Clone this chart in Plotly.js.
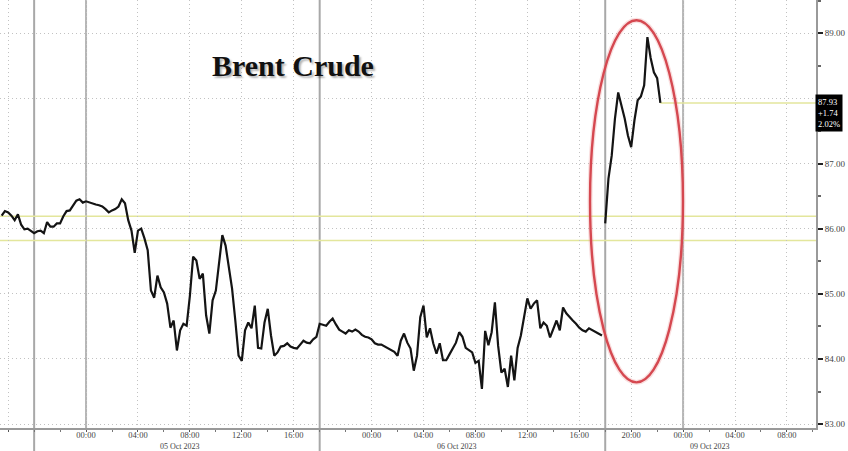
<!DOCTYPE html>
<html><head><meta charset="utf-8">
<script src="https://cdn.plot.ly/plotly-3.0.1.min.js"></script>
<style>html,body{margin:0;padding:0;background:#fff}#chart{width:848px;height:451px}</style>
</head><body><div id="chart"></div>
<script>
// Time axis: trading hours with session gaps removed; 0 = 00:00 05 Oct 2023
const STEP = 0.25;
const oct5Start = -6.5;
const oct5Prices = [
86.20, 86.27, 86.25, 86.20, 86.13, 86.22, 86.06, 85.99, 86.00, 85.97,
85.93, 85.96, 85.97, 85.93, 86.10, 86.03, 86.03, 86.08, 86.08, 86.19,
86.27, 86.28, 86.36, 86.43, 86.45, 86.40, 86.42, 86.40, 86.39, 86.37,
86.36, 86.34, 86.30, 86.25, 86.28, 86.30, 86.34, 86.45, 86.39, 86.13,
85.97, 85.63, 85.97, 86.00, 85.85, 85.67, 85.05, 84.94, 85.28, 85.10,
85.02, 84.85, 84.48, 84.59, 84.13, 84.44, 84.54, 84.51, 84.97, 85.57,
85.51, 85.23, 85.31, 84.67, 84.39, 84.90, 85.05, 85.48, 85.90, 85.74,
85.43, 85.08, 84.59, 84.05, 83.97, 84.44, 84.56, 84.47, 84.82, 84.17,
84.16, 84.56, 84.77, 84.36, 84.05, 84.10, 84.19, 84.20, 84.24, 84.19,
84.17, 84.16, 84.22, 84.28, 84.25, 84.24, 84.30, 84.34];
const oct6Start = 18;
const oct6Prices = [
84.54, 84.53, 84.51, 84.57, 84.62, 84.53, 84.45, 84.42, 84.39, 84.44,
84.42, 84.45, 84.42, 84.37, 84.34, 84.33, 84.30, 84.24, 84.22, 84.22,
84.19, 84.17, 84.14, 84.11, 84.05, 84.28, 84.39, 84.25, 84.16, 83.82,
84.05, 84.64, 84.82, 84.33, 84.47, 84.24, 84.08, 84.24, 83.98, 83.98,
84.07, 84.17, 84.25, 84.41, 84.34, 84.17, 84.13, 84.10, 83.94, 83.97,
83.54, 84.43, 84.21, 84.41, 84.87, 84.20, 83.79, 83.85, 83.57, 84.05,
83.67, 84.17, 84.36, 84.67, 84.93, 84.77, 84.85, 84.90, 84.47, 84.56,
84.51, 84.33, 84.47, 84.59, 84.44, 84.79, 84.70, 84.64, 84.59, 84.54,
84.48, 84.44, 84.42, 84.47, 84.44, 84.41, 84.39, 84.36];
const oct9Start = 40;
const oct9Prices = [86.08, 86.77, 87.12, 87.69, 88.09, 87.89, 87.69, 87.43, 87.25,
87.66, 87.97, 88.03, 88.20, 88.94, 88.62, 88.40, 88.31, 87.93];

const tickHours  = [-6, 0, 4, 8, 12, 16, 22, 26, 30, 34, 38, 42, 46, 50, 54];
const tickLabels = ['', '00:00', '04:00', '08:00', '12:00', '16:00', '00:00', '04:00', '08:00', '12:00', '16:00', '20:00', '00:00', '04:00', '08:00'];
const sessionBreaks = [-4, 18, 40];
const midnightLines = [0, 46];
const dayLabels = ['05 Oct 2023', '06 Oct 2023', '09 Oct 2023'];
const dayLabelHours = [7.2, 28.6, 48.1];
const refLevels = [86.19, 85.82];
const lastPrice = 87.93;
const netChange = '+1.74';
const pctChange = '2.02%';
const yTicks = [83, 84, 85, 86, 87, 88, 89];
const chartTitle = 'Brent Crude';
// highlighted zone (time range, price range)
const highlightHours = [38.83, 45.99];
const highlightPrices = [83.64, 89.2];

const xRange = [-6.63, 56.24];
const yRange = [82.94, 89.51];

function hours(start, arr) { return arr.map((_, i) => start + i * STEP); }

const x12 = hours(oct5Start, oct5Prices).concat(hours(oct6Start, oct6Prices));
const y12 = oct5Prices.concat(oct6Prices);
const x3 = hours(oct9Start, oct9Prices);
const lastHour = x3[x3.length - 1];

const lineStyle = {color: '#141414', width: 2.2};
const traces = [
  {x: x12, y: y12, type: 'scatter', mode: 'lines', line: lineStyle, hoverinfo: 'skip'},
  {x: x3, y: oct9Prices, type: 'scatter', mode: 'lines', line: lineStyle, hoverinfo: 'skip'}
];

const tickFont = {family: 'Liberation Serif, DejaVu Serif, serif', size: 8.5, color: '#444'};
const shapes = [];
sessionBreaks.forEach(h => shapes.push({type: 'line', xref: 'x', yref: 'paper', x0: h, x1: h, y0: -0.06, y1: 1,
  line: {color: '#a8a8a8', width: 2}, layer: 'below'}));
midnightLines.forEach(h => shapes.push({type: 'line', xref: 'x', yref: 'paper', x0: h, x1: h, y0: 0, y1: 1,
  line: {color: '#b4b4b4', width: 2}, layer: 'below'}));
refLevels.forEach(v => shapes.push({type: 'line', xref: 'paper', yref: 'y', x0: 0, x1: 1, y0: v, y1: v,
  line: {color: '#e3e69c', width: 1.5}, layer: 'below'}));
shapes.push({type: 'line', xref: 'x', yref: 'y', x0: lastHour, x1: xRange[1], y0: lastPrice, y1: lastPrice,
  line: {color: '#e3e69c', width: 1.5}, layer: 'below'});
shapes.push({type: 'circle', xref: 'x', yref: 'y', x0: highlightHours[0], x1: highlightHours[1],
  y0: highlightPrices[0], y1: highlightPrices[1], line: {color: 'rgba(235,150,150,0.3)', width: 5}});
shapes.push({type: 'circle', xref: 'x', yref: 'y', x0: highlightHours[0], x1: highlightHours[1],
  y0: highlightPrices[0], y1: highlightPrices[1], line: {color: '#d54850', width: 2.4}});

const annotations = dayLabels.map((t, i) => ({text: t, x: dayLabelHours[i], xref: 'x', y: -0.043, yref: 'paper',
  showarrow: false, xanchor: 'center', yanchor: 'middle', font: Object.assign({}, tickFont, {size: 8})}));
annotations.push({text: '<b>' + chartTitle + '</b>', xref: 'paper', yref: 'paper', x: 0.359, y: 0.848,
  showarrow: false, xanchor: 'center', yanchor: 'middle',
  font: {family: 'Liberation Serif, Times New Roman, serif', size: 30, color: '#111', shadow: '2px 2px 2px rgba(0,0,0,0.3)'}});
annotations.push({text: lastPrice.toFixed(2) + '<br>' + netChange + '<br>' + pctChange,
  xref: 'paper', yref: 'y', x: 1, y: lastPrice, xanchor: 'left', yanchor: 'middle', xshift: -1, yshift: -10,
  showarrow: false, align: 'left', bgcolor: '#000', borderpad: 2,
  font: {family: 'Liberation Serif, serif', size: 8.5, color: '#ffffff'}});

const layout = {
  width: 848, height: 451,
  margin: {l: 0, r: 32, t: 0, b: 23},
  paper_bgcolor: '#fff', plot_bgcolor: '#fff',
  showlegend: false,
  xaxis: {range: xRange, tickmode: 'array', tickvals: tickHours, ticktext: tickLabels,
    showgrid: true, gridcolor: '#c2c2c2', griddash: '1px,3px', gridwidth: 1,
    zeroline: false, showline: true, linecolor: '#9a9a9a', linewidth: 2,
    ticks: 'outside', ticklen: 2, tickcolor: '#555', tickfont: tickFont, ticklabelstandoff: -4,
    minor: {dtick: 2, tick0: 0, ticks: 'outside', ticklen: 2, tickcolor: '#777', showgrid: false}},
  yaxis: {range: yRange, side: 'right', tickmode: 'array', tickvals: yTicks,
    // the 88.00 label sits under the last-price box in the reference
    ticktext: yTicks.map(v => v === Math.round(lastPrice) ? '' : v.toFixed(2)),
    showgrid: true, gridcolor: '#c2c2c2', griddash: '1px,3px', gridwidth: 1,
    zeroline: false, showline: true, linecolor: '#9a9a9a', linewidth: 2,
    ticks: 'outside', ticklen: 5, tickwidth: 2, tickcolor: '#222', tickfont: Object.assign({}, tickFont, {size: 9}),
    minor: {dtick: 0.5, tick0: 83, ticks: 'outside', ticklen: 3, tickcolor: '#666', showgrid: false}},
  shapes: shapes,
  annotations: annotations
};

Plotly.newPlot('chart', traces, layout, {staticPlot: true, displayModeBar: false});
</script></body></html>
